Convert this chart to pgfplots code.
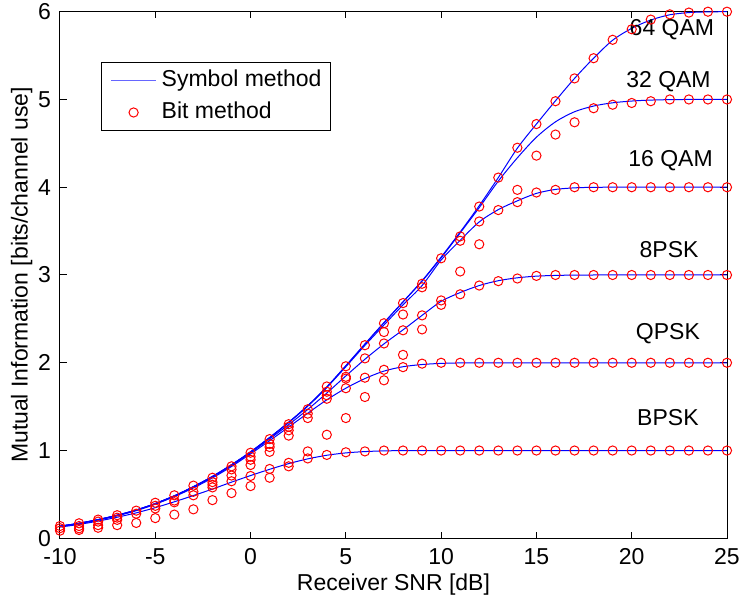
\documentclass[border=0pt]{standalone}
\usepackage{fontspec}
\setmainfont{Liberation Sans}
\usepackage{pgfplots}
\usepackage{pgfplotstable}
\pgfplotsset{compat=1.18}

% symbol-method curves
\pgfplotstableread{
snr bpsk qpsk psk8 qam16 qam32 qam64
-10 0.128 0.136 0.137 0.138 0.138 0.138
-9 0.158 0.168 0.170 0.171 0.171 0.171
-8 0.196 0.208 0.211 0.213 0.213 0.213
-7 0.240 0.256 0.260 0.263 0.263 0.263
-6 0.290 0.315 0.319 0.322 0.322 0.322
-5 0.349 0.388 0.393 0.396 0.396 0.396
-4 0.416 0.475 0.481 0.484 0.484 0.484
-3 0.487 0.574 0.583 0.588 0.588 0.588
-2 0.561 0.688 0.699 0.704 0.705 0.705
-1 0.640 0.818 0.830 0.836 0.838 0.838
0 0.715 0.962 0.975 0.983 0.985 0.985
1 0.786 1.112 1.132 1.145 1.148 1.148
2 0.851 1.268 1.295 1.318 1.322 1.322
3 0.905 1.425 1.468 1.505 1.510 1.510
4 0.946 1.578 1.655 1.718 1.724 1.724
5 0.973 1.710 1.850 1.955 1.965 1.966
6 0.988 1.820 2.040 2.198 2.212 2.214
7 0.996 1.905 2.215 2.430 2.455 2.457
8 0.999 1.955 2.375 2.660 2.692 2.695
9 1.000 1.980 2.540 2.880 2.930 2.935
10 1.000 1.993 2.700 3.170 3.195 3.205
11 1.000 1.998 2.800 3.395 3.480 3.490
12 1.000 2.000 2.880 3.605 3.768 3.790
13 1.000 2.000 2.935 3.745 4.070 4.110
14 1.000 2.000 2.968 3.845 4.335 4.445
15 1.000 2.000 2.987 3.930 4.570 4.720
16 1.000 2.000 2.995 3.975 4.745 4.985
17 1.000 2.000 2.999 3.993 4.860 5.240
18 1.000 2.000 3.000 3.999 4.925 5.470
19 1.000 2.000 3.000 4.000 4.962 5.675
20 1.000 2.000 3.000 4.000 4.982 5.810
21 1.000 2.000 3.000 4.000 4.993 5.905
22 1.000 2.000 3.000 4.000 4.998 5.965
23 1.000 2.000 3.000 4.000 5.000 5.990
24 1.000 2.000 3.000 4.000 5.000 5.998
25 1.000 2.000 3.000 4.000 5.000 6.000
}\symb

% bit-method points (all constellations)
\pgfplotstableread{
snr mi
-10 0.140
-10 0.115
-10 0.087
-9 0.171
-9 0.140
-9 0.114
-9 0.095
-8 0.213
-8 0.190
-8 0.150
-8 0.120
-7 0.263
-7 0.235
-7 0.210
-7 0.150
-6 0.315
-6 0.280
-6 0.175
-5 0.405
-5 0.370
-5 0.340
-5 0.230
-4 0.490
-4 0.430
-4 0.410
-4 0.270
-3 0.600
-3 0.530
-3 0.490
-3 0.330
-2 0.690
-2 0.640
-2 0.610
-2 0.580
-2 0.435
-1 0.820
-1 0.785
-1 0.715
-1 0.650
-1 0.515
0 0.975
0 0.930
0 0.895
0 0.835
0 0.710
0 0.595
1 1.130
1 1.075
1 1.040
1 0.985
1 0.790
1 0.690
2 1.300
2 1.270
2 1.230
2 1.170
2 0.860
2 0.820
3 1.470
3 1.420
3 1.370
3 0.990
3 0.910
4 1.730
4 1.670
4 1.630
4 1.590
4 1.180
4 0.950
5 1.960
5 1.840
5 1.820
5 1.710
5 1.370
5 0.980
6 2.200
6 2.050
6 1.830
6 1.610
6 0.990
7 2.450
7 2.350
7 2.220
7 1.920
7 1.800
7 1.000
8 2.680
8 2.550
8 2.370
8 2.090
8 1.950
8 1.000
9 2.900
9 2.860
9 2.540
9 2.380
9 1.990
9 1.000
10 3.190
10 2.710
10 2.660
10 2.000
10 1.000
11 3.440
11 3.390
11 3.040
11 2.780
11 2.000
11 1.000
12 3.780
12 3.610
12 3.350
12 2.880
12 2.000
12 1.000
13 4.110
13 3.740
13 2.930
13 2.000
13 1.000
14 4.450
14 3.970
14 3.830
14 2.960
14 2.000
14 1.000
15 4.720
15 4.360
15 3.940
15 2.990
15 2.000
15 1.000
16 4.980
16 4.600
16 3.970
16 3.000
16 2.000
16 1.000
17 5.240
17 4.740
17 4.000
17 3.000
17 2.000
17 1.000
18 5.470
18 4.900
18 4.000
18 3.000
18 2.000
18 1.000
19 5.680
19 4.940
19 4.000
19 3.000
19 2.000
19 1.000
20 5.800
20 4.960
20 4.000
20 3.000
20 2.000
20 1.000
21 5.910
21 4.980
21 4.000
21 3.000
21 2.000
21 1.000
22 5.970
22 5.000
22 4.000
22 3.000
22 2.000
22 1.000
23 5.990
23 5.000
23 4.000
23 3.000
23 2.000
23 1.000
24 6.000
24 5.000
24 4.000
24 3.000
24 2.000
24 1.000
25 6.000
25 5.000
25 4.000
25 3.000
25 2.000
25 1.000
}\bits

\newcommand{\ff}{\fontsize{11.5bp}{13.8bp}\selectfont}

\begin{document}
\ff
\begin{tikzpicture}
\useasboundingbox (-30bp,-29.85bp) rectangle (340bp,269.15bp);
\begin{axis}[
  at={(0,0)}, anchor=south west,
  scale only axis, width=333.5bp, height=263.3bp,
  xmin=-10, xmax=25, ymin=0, ymax=6,
  xtick={-10,-5,0,5,10,15,20,25}, ytick={0,1,2,3,4,5,6},
  xtick pos=both, ytick pos=both,
  tick align=inside, major tick length=3.4bp,
  axis line style={line width=0.5bp, black},
  tick style={line width=0.5bp, black},
  /pgf/number format/assume math mode=true,
  ticklabel style={font=\ff},
  xticklabel style={yshift=-1bp},
  yticklabel style={xshift=-0.5bp},
  label style={font=\ff},
  xlabel={Receiver SNR [dB]},
  xlabel style={yshift=3.5bp},
  ylabel={Mutual Information [bits/channel use]},
  ylabel style={yshift=-5bp},
  legend style={at={(0.0615,0.9045)}, anchor=north west, draw=black,
    line width=0.5bp, font=\ff, inner xsep=4.5bp, inner ysep=3bp,
    nodes={inner sep=0pt, text height=9bp, text depth=3bp},
    row sep=4bp, column sep=2.5bp},
  legend cell align=left,
]
\addplot[blue, line width=0.5bp, smooth, mark=none,
  legend image code/.code={\draw[blue!60,line width=0.6bp] (0bp,0bp) -- (22.5bp,0bp);}]
  table[x=snr, y=bpsk]{\symb};
\addlegendentry{Symbol method\hspace{4bp}}
\addplot[red, only marks, mark=o, mark size=2.3bp, mark options={line width=0.5bp},
  legend image code/.code={\draw[red,line width=0.5bp] (11.25bp,0bp) circle (2.3bp);}]
  table[x=snr, y=mi]{\bits};
\addlegendentry{Bit method}
\addplot[blue, line width=0.5bp, smooth, mark=none, forget plot] table[x=snr, y=qpsk]{\symb};
\addplot[blue, line width=0.5bp, smooth, mark=none, forget plot] table[x=snr, y=psk8]{\symb};
\addplot[blue, line width=0.5bp, smooth, mark=none, forget plot] table[x=snr, y=qam16]{\symb};
\addplot[blue, line width=0.5bp, smooth, mark=none, forget plot] table[x=snr, y=qam32]{\symb};
\addplot[blue, line width=0.5bp, smooth, mark=none, forget plot] table[x=snr, y=qam64]{\symb};
\node[anchor=base, font=\ff, inner sep=0pt] at (axis cs:22.11,5.73) {64 QAM};
\node[anchor=base, font=\ff, inner sep=0pt] at (axis cs:21.93,5.14) {32 QAM};
\node[anchor=base, font=\ff, inner sep=0pt] at (axis cs:22.04,4.24) {16 QAM};
\node[anchor=base, font=\ff, inner sep=0pt] at (axis cs:21.96,3.20) {8PSK};
\node[anchor=base, font=\ff, inner sep=0pt] at (axis cs:21.90,2.27) {QPSK};
\node[anchor=base, font=\ff, inner sep=0pt] at (axis cs:21.90,1.28) {BPSK};
\end{axis}
\end{tikzpicture}
\end{document}
